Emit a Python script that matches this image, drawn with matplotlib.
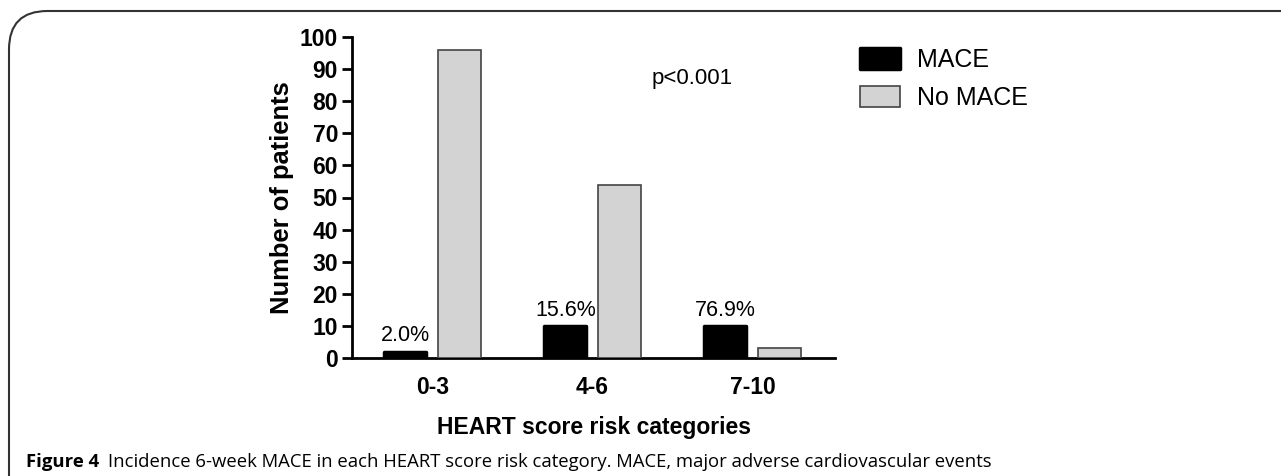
import numpy as np
import matplotlib
matplotlib.use("Agg")
import matplotlib.pyplot as plt
from matplotlib.patches import FancyBboxPatch

plt.rcParams["font.family"] = ["Liberation Sans", "DejaVu Sans"]

"""
__Data__
"""
categories = ["0-3", "4-6", "7-10"]
mace = [2, 10, 10]
no_mace = [96, 54, 3]
pct_labels = ["2.0%", "15.6%", "76.9%"]

"""
__Figure__
"""
fig = plt.figure(figsize=(12.81, 4.76), dpi=100)
ax = fig.add_axes([352 / 1281, 1 - 358 / 476, (835 - 352) / 1281, (358 - 37) / 476])

x = np.arange(len(categories))
width = 0.265
offset = 0.17

ax.bar(x - offset, mace, width=width, color="black", edgecolor="black",
       linewidth=2.5, joinstyle="round", label="MACE", zorder=3)
ax.bar(x + offset, no_mace, width=width, color="#d3d3d3", edgecolor="#444444",
       linewidth=1.2, label="No MACE", zorder=3)

for xi, val, txt in zip(x, mace, pct_labels):
    ax.text(xi - offset, val + 1.6, txt, ha="center", va="bottom", fontsize=15.5)

ax.text(1.625, 87, "p<0.001", ha="center", va="center", fontsize=16)

ax.set_xlim(-0.503, 2.516)
ax.set_ylim(0, 100)
ax.set_yticks(np.arange(0, 101, 10))
ax.set_xticks(x)
ax.set_xticklabels(categories)
ax.tick_params(axis="y", length=7, width=2, labelsize=16.5, pad=3)
ax.tick_params(axis="x", length=0, labelsize=16.5, pad=13)
for lab in ax.get_xticklabels() + ax.get_yticklabels():
    lab.set_fontweight("bold")

for side in ["top", "right"]:
    ax.spines[side].set_visible(False)
for side in ["left", "bottom"]:
    ax.spines[side].set_linewidth(2)

ax.set_xlabel("HEART score risk categories", fontsize=16.5, fontweight="bold", labelpad=12)
ax.set_ylabel("Number of patients", fontsize=18.4, fontweight="bold", labelpad=4)

leg = ax.legend(loc="upper left", bbox_to_anchor=(1.005, 1.035), frameon=False, fontsize=18,
                handlelength=1.6, handleheight=0.88, handletextpad=0.7, labelspacing=0.55)
leg.legend_handles[0].set_joinstyle("round")

# rounded frame around the figure
frame = FancyBboxPatch((9 / 1281, -0.1), 1.2, 0.1 + 1 - 11 / 476,
                       boxstyle="round,pad=0,rounding_size=0.03",
                       transform=fig.transFigure, fill=False,
                       edgecolor="#333333", linewidth=1.5, clip_on=False,
                       mutation_aspect=1281 / 476)
fig.patches.append(frame)

cap_y = 1 - 467 / 476
fig.text(26 / 1281, cap_y, "Figure 4", fontsize=13.3, fontweight="bold",
         family=["Open Sans", "DejaVu Sans"], va="baseline", ha="left")
fig.text(108 / 1281, cap_y,
         "Incidence 6-week MACE in each HEART score risk category. MACE, major adverse cardiovascular events",
         fontsize=13.3, family=["Open Sans", "DejaVu Sans"], va="baseline", ha="left")

fig.savefig("out.png", dpi=100)
